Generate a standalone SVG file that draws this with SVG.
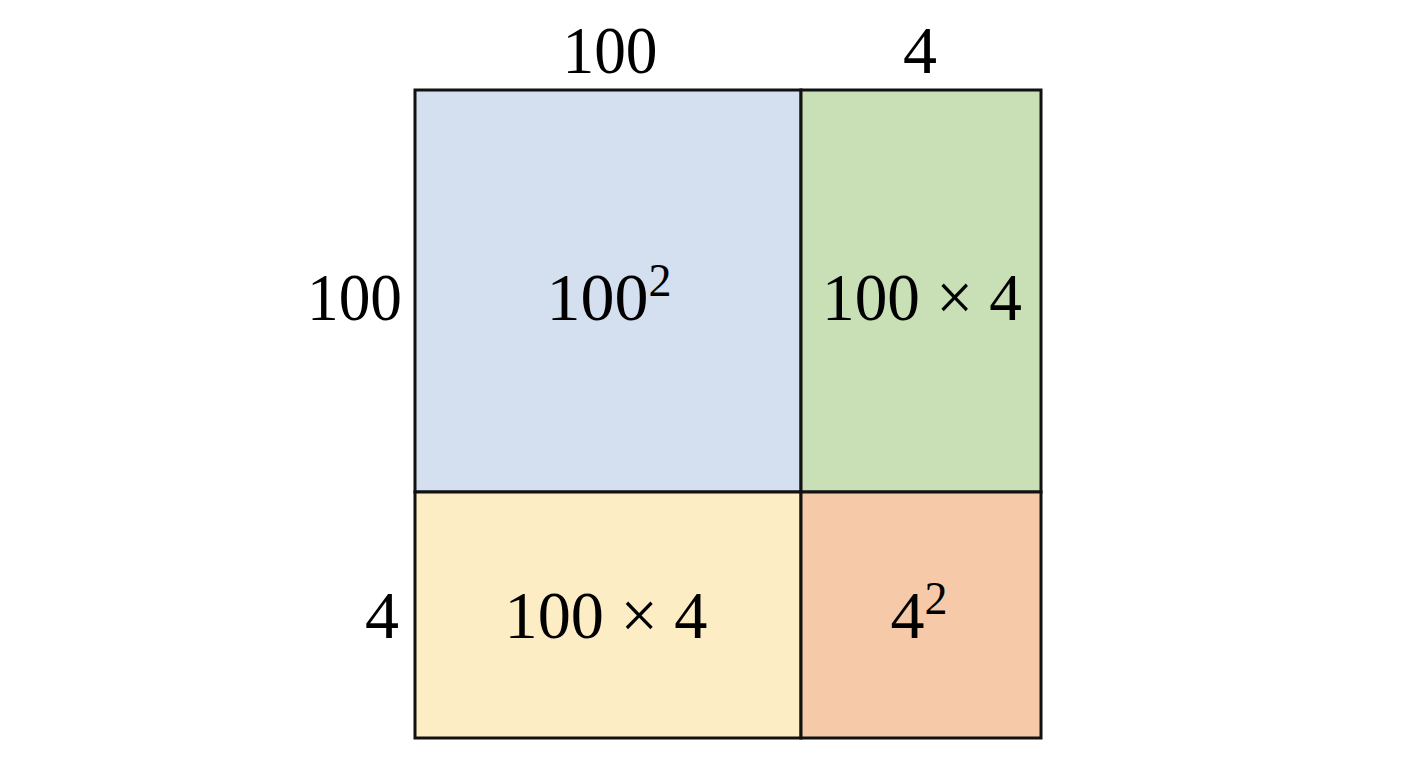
<svg xmlns="http://www.w3.org/2000/svg" width="1408" height="768" viewBox="0 0 1408 768">
<style>
.t{font-family:"Liberation Serif","Times New Roman",serif;font-size:68px;fill:#000;}
.c{text-anchor:middle;}
.r{text-anchor:end;}
.cell{stroke:#111;stroke-width:3;}
.sup{font-size:46px;}
</style>
<rect width="1408" height="768" fill="#ffffff"/>
<g id="cell-a">
<rect class="cell" x="415" y="90" width="386" height="402" fill="#D4DFEF"/>
<text class="t c" x="609" y="320">100<tspan class="sup" dy="-24">2</tspan></text>
</g>
<g id="cell-b">
<rect class="cell" x="801" y="90" width="240" height="402" fill="#C9DFB6"/>
<text class="t c" x="922" y="320" textLength="200" lengthAdjust="spacingAndGlyphs">100 × 4</text>
</g>
<g id="cell-c">
<rect class="cell" x="415" y="492" width="386" height="246" fill="#FCEDC4"/>
<text class="t c" x="606" y="638" textLength="203" lengthAdjust="spacingAndGlyphs">100 × 4</text>
</g>
<g id="cell-d">
<rect class="cell" x="801" y="492" width="240" height="246" fill="#F6CAA8"/>
<text class="t c" x="919" y="638">4<tspan class="sup" dy="-24">2</tspan></text>
</g>
<g id="labels">
<text class="t c" x="610" y="73" textLength="95" lengthAdjust="spacingAndGlyphs">100</text>
<text class="t c" x="920" y="73">4</text>
<text class="t r" x="402" y="320" textLength="95" lengthAdjust="spacingAndGlyphs">100</text>
<text class="t r" x="399" y="638">4</text>
</g>
<g id="connectors"></g>
</svg>
